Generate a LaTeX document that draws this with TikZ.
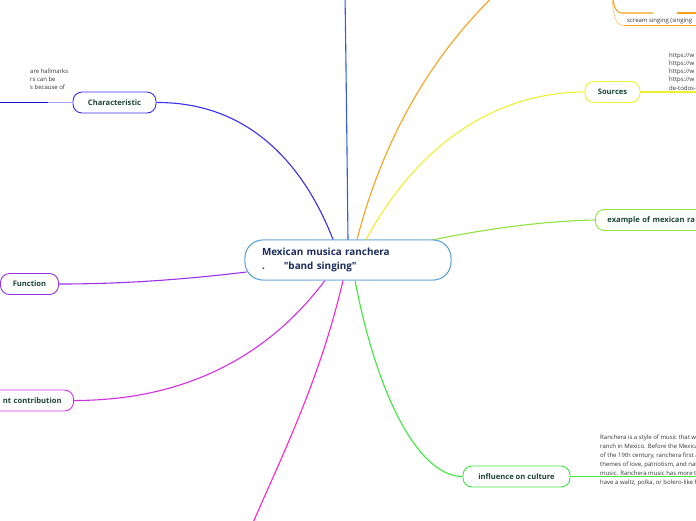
\documentclass[tikz,border=0pt]{standalone}
\usepackage{fontspec}
\setmainfont{Open Sans}[Ligatures=TeXOff]
\usetikzlibrary{calc}
\definecolor{cblue}{HTML}{5A9FD4}
\definecolor{navy}{HTML}{1B2B5E}
\definecolor{tgreen}{HTML}{1C4535}
\definecolor{vblue}{HTML}{2F5BEA}
\definecolor{orng}{HTML}{F7A21B}
\definecolor{lorng}{HTML}{FBCB83}
\definecolor{yell}{HTML}{EFEF2E}
\definecolor{lime}{HTML}{8EE33E}
\definecolor{grn}{HTML}{3DE83D}
\definecolor{mag}{HTML}{FF22CC}
\definecolor{cmag}{HTML}{D32EE6}
\definecolor{purp}{HTML}{9A32E6}
\definecolor{chblue}{HTML}{3A2EEE}
\definecolor{lblue}{HTML}{A3A3FF}
\definecolor{dblue}{HTML}{1414D8}
\definecolor{smalltxt}{HTML}{333333}
\begin{document}
\begin{tikzpicture}[x=1pt,y=-1pt,
  topic/.style={draw, fill=white, rounded corners=9pt, line width=0.9pt,
    minimum height=21pt, inner xsep=6pt, inner ysep=0pt, text=tgreen,
    font=\fontsize{7.6}{8}\selectfont\bfseries},
  central/.style={draw=cblue, fill=white, rounded corners=18pt, line width=0.9pt,
    minimum width=206pt, minimum height=40pt, text width=172pt, align=left,
    text=navy, font=\fontsize{9.9}{14}\selectfont\bfseries},
  small/.style={inner sep=0pt, text=smalltxt, align=left,
    font=\fontsize{6}{9}\selectfont},
  conn/.style={line width=1.1pt}]
\useasboundingbox (0,0) rectangle (696,520);
\clip (0,0) rectangle (696,520);

% central node
\node[central] (c) at (348,260)
  {Mexican musica ranchera\\[-0.5pt].\hspace{19pt}"band singing"};

% main topics
\node[topic, draw=chblue, minimum width=83pt] (ch) at (114.5,102.5) {Characteristic};
\node[topic, draw=yell, minimum width=55pt] (src) at (612.5,92) {Sources};
\node[topic, draw=lime, anchor=west, text width=112pt, align=left, inner xsep=12pt] (ex) at (595,220) {example of mexican ra};
\node[topic, draw=purp, minimum width=58pt] (fn) at (29.5,284) {Function};
\node[topic, draw=cmag, anchor=east, text width=100pt, align=right, inner xsep=12pt] (ct) at (74,400.5) {nt contribution};
\node[topic, draw=grn, minimum width=107pt] (inf) at (516.5,476.5) {influence on culture};

% small texts
\node[small, anchor=north west, font=\fontsize{6}{8}\selectfont] (cht) at (30,69) {are hallmarks\\rs can be\\s because of};
\node[small, anchor=south west, font=\fontsize{6}{8.3}\selectfont] (srct) at (669,90.5) {https://w\\https://w\\https://w\\https://w\\de-todos-};
\node[small, anchor=north west] (inft) at (600,435) {Ranchera is a style of music that w\\ranch in Mexico. Before the Mexica\\of the 19th century, ranchera first a\\themes of love, patriotism, and nat\\music. Ranchera music has more t\\have a waltz, polka, or bolero-like f};
\node[small, anchor=base west] (scr) at (627,22.5) {scream singing (singing};

% helper coordinates
\coordinate (chu) at (48,102.5);
\coordinate (chend) at (-2,102.5);
\coordinate (srcu) at (668,92);
\coordinate (srcend) at (700,92);
\coordinate (infu) at (598,476.5);
\coordinate (infend) at (700,476.5);
\coordinate (vtop) at (345,-5);
\coordinate (otop) at (500,-10);
\coordinate (mbot) at (252,525);
\coordinate (ortop) at (612,-6);
\coordinate (or1) at (622,13);
\coordinate (or1a) at (653,13);
\coordinate (or1b) at (677,13);
\coordinate (or1end) at (700,13);
\coordinate (or2) at (624,25.5);
\coordinate (or2end) at (700,25.5);

% connectors from central node
\draw[conn, vblue] (c.north) .. controls (347,150) and (346,60) .. (vtop);
\draw[conn, orng] ($(c.north)+(9,0)$) .. controls (380,150) and (425,60) .. (otop);
\draw[conn, yell] ($(c.north)+(18,0)$) .. controls (420,140) and (500,92) .. (src.west);
\draw[conn, chblue] ($(c.north)+(-15,0)$) .. controls (310,180) and (260,102) .. (ch.east);
\draw[conn, lime] ($(c.north east)+(-22,1)$) .. controls (480,230) and (540,221) .. (ex.west);
\draw[conn, grn] ($(c.south)+(7,0)$) .. controls (378,400) and (420,476.5) .. (inf.west);
\draw[conn, mag] ($(c.south)+(-5,0)$) .. controls (320,380) and (280,460) .. (mbot);
\draw[conn, cmag] ($(c.south)+(-23,0)$) .. controls (250,380) and (150,400.5) .. (ct.east);
\draw[conn, purp] ($(c.west)+(2,12)$) .. controls (180,280) and (120,284) .. (fn.east);

% secondary connectors
\draw[conn, lblue] (ch.west) -- (chu);
\draw[line width=1.4pt, dblue] (chu) -- (chend);
\draw[conn, yell] (src.east) -- (srcu) -- (srcend);
\draw[conn, grn] (inf.east) -- (infu) -- (infend);
\draw[conn, orng] (ortop) .. controls (614,8) and (616,13) .. (or1) -- (or1a);
\draw[conn, orng] (or1b) -- (or1end);
\draw[line width=0.8pt, lorng] (ortop) .. controls (613,18) and (616,25.5) .. (or2);
\draw[conn, orng] (or2) -- (or2end);

% central node redrawn on top of its connectors
\node[central] at (c)
  {Mexican musica ranchera\\[-0.5pt].\hspace{19pt}"band singing"};
\end{tikzpicture}
\end{document}
